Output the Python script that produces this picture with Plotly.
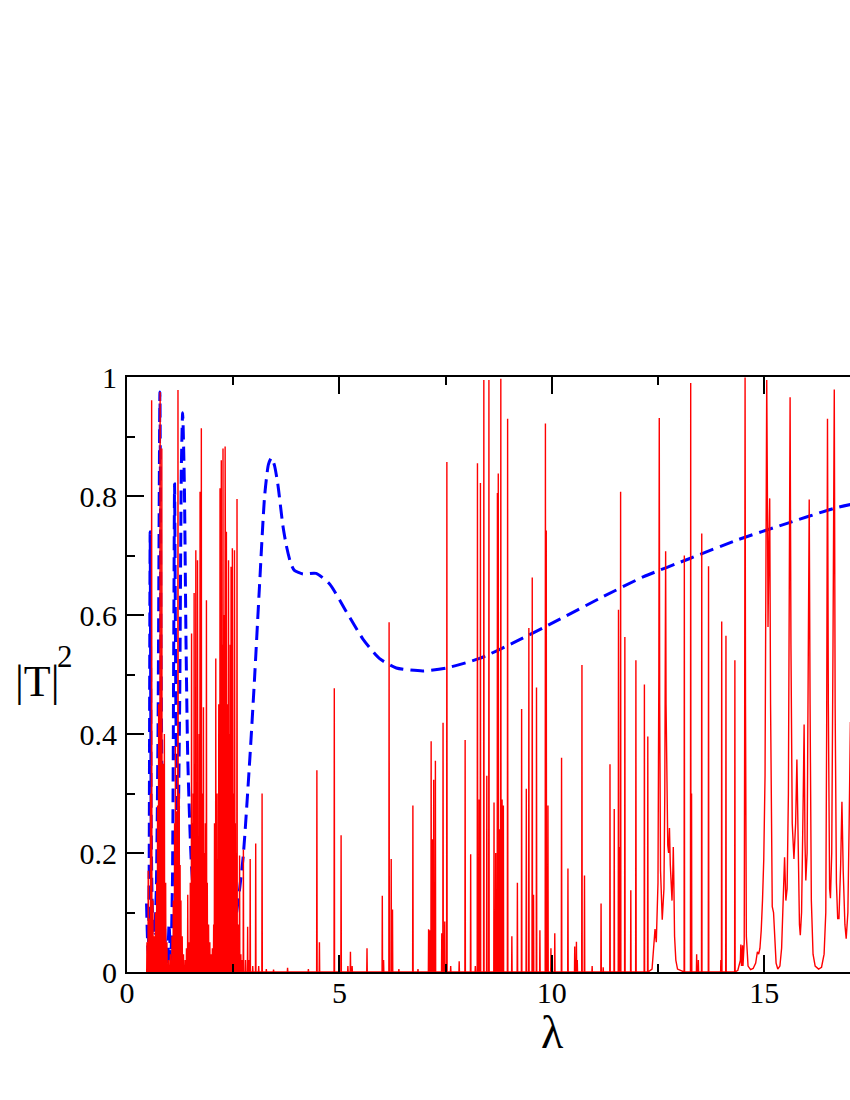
import plotly.graph_objects as go

# ---------------- data ----------------
# Blue dashed curve (|T|^2 vs lambda)
blue_lambda = [0.46, 0.48, 0.50, 0.52, 0.545, 0.57, 0.60, 0.65, 0.69, 0.73, 0.775, 0.80,
               0.84, 0.90, 0.95, 0.99, 1.03, 1.07, 1.10, 1.12, 1.15, 1.19, 1.24, 1.28,
               1.31, 1.35, 1.39, 1.43, 1.51, 1.63, 1.78, 1.94, 2.10, 2.30, 2.45, 2.57,
               2.73, 2.89, 3.00, 3.12, 3.24, 3.33, 3.40, 3.47, 3.55, 3.67, 3.75, 3.85,
               3.94, 4.14, 4.45, 4.77, 5.16, 5.55, 5.94, 6.34, 6.97, 7.52, 8.30, 9.09,
               10.19, 11.13, 12.15, 13.25, 14.36, 15.54, 16.63, 17.05]
blue_T2 = [0.115, 0.06, 0.03, 0.15, 0.74, 0.25, 0.10, 0.065, 0.14, 0.40, 0.975, 0.55,
           0.20, 0.05, 0.01, 0.08, 0.02, 0.15, 0.55, 0.82, 0.45, 0.17, 0.45, 0.85,
           0.94, 0.82, 0.55, 0.36, 0.19, 0.075, 0.03, 0.013, 0.01, 0.02, 0.05, 0.095,
           0.19, 0.357, 0.49, 0.65, 0.80, 0.853, 0.864, 0.852, 0.82, 0.75, 0.717, 0.688,
           0.675, 0.669, 0.67, 0.652, 0.606, 0.56, 0.527, 0.511, 0.506, 0.511, 0.527, 0.553,
           0.593, 0.628, 0.664, 0.695, 0.726, 0.754, 0.779, 0.786]

# Red curve: narrow resonance spikes (centre, height)
red_spike_lambda = [
    0.47, 0.50, 0.53, 0.555, 0.58, 0.61, 0.64, 0.67, 0.70, 0.72, 0.745, 0.78, 0.80, 0.82,
    0.85, 0.88, 0.91, 0.94, 0.98, 1.02, 1.06, 1.09, 1.12, 1.14, 1.16, 1.18, 1.20, 1.23,
    1.25, 1.27, 1.30, 1.33, 1.37, 1.40, 1.43, 1.46, 1.49, 1.52, 1.54, 1.56, 1.58, 1.60,
    1.62, 1.64, 1.66, 1.68, 1.70, 1.72, 1.75, 1.77, 1.80, 1.82, 1.845, 1.87, 1.89, 1.92,
    1.95, 1.98, 2.01, 2.04, 2.06, 2.09, 2.12, 2.14, 2.16, 2.19, 2.205, 2.22, 2.24, 2.26,
    2.28, 2.31, 2.325, 2.34, 2.36, 2.39, 2.41, 2.43, 2.45, 2.465, 2.48, 2.50, 2.53, 2.55,
    2.57, 2.59, 2.62, 2.65, 2.68, 2.71, 2.74, 2.79, 2.84, 2.87, 2.90, 2.96, 3.03, 3.10,
    3.18, 3.28, 3.45, 3.78, 4.27, 4.47, 4.53, 4.88, 5.04, 5.20, 5.26, 5.30, 5.65, 6.01,
    6.04, 6.17, 6.22, 6.25, 6.40, 6.73, 6.85, 7.10, 7.13, 7.16, 7.19, 7.22, 7.26, 7.41,
    7.44, 7.48, 7.53, 7.62, 7.82, 7.96, 8.09, 8.20, 8.25, 8.29, 8.32, 8.40, 8.47, 8.52,
    8.64, 8.68, 8.72, 8.74, 8.77, 8.80, 8.83, 8.86, 8.96, 9.06, 9.19, 9.29, 9.40, 9.46,
    9.54, 9.57, 9.64, 9.72, 9.85, 9.87, 9.91, 9.98, 10.07, 10.23, 10.38, 10.54, 10.58,
    10.60, 10.71, 10.77, 10.95, 11.16, 11.21, 11.37, 11.47, 11.57, 11.595, 11.62, 11.72,
    11.86, 11.98, 12.18, 12.26,
    13.12, 13.27, 13.29, 13.41, 13.45, 13.53, 13.69, 13.98, 14.00, 14.10, 14.31]
red_spike_T2 = [
    0.05, 0.17, 0.09, 0.30, 0.961, 0.12, 0.06, 0.10, 0.15, 0.28, 0.45, 0.975, 0.30, 0.88,
    0.35, 0.40, 0.15, 0.05, 0.02, 0.03, 0.06, 0.12, 0.25, 0.38, 0.27, 0.15, 0.978, 0.30,
    0.18, 0.12, 0.06, 0.03, 0.02, 0.04, 0.13, 0.05, 0.15, 0.569, 0.25, 0.30, 0.637, 0.35,
    0.709, 0.28, 0.692, 0.22, 0.40, 0.807, 0.914, 0.30, 0.445, 0.20, 0.25, 0.625, 0.15, 0.08,
    0.05, 0.03, 0.04, 0.08, 0.25, 0.527, 0.30, 0.19, 0.45, 0.813, 0.50, 0.86, 0.55, 0.88,
    0.60, 0.883, 0.50, 0.74, 0.45, 0.692, 0.40, 0.55, 0.681, 0.35, 0.712, 0.30, 0.709, 0.25,
    0.20, 0.795, 0.08, 0.196, 0.03, 0.02, 0.206, 0.02, 0.076, 0.02, 0.19, 0.01, 0.216, 0.01,
    0.30, 0.005, 0.004, 0.007, 0.005, 0.339, 0.05, 0.477, 0.23, 0.01, 0.034, 0.01, 0.04, 0.128,
    0.02, 0.588, 0.19, 0.105, 0.005, 0.28, 0.005, 0.072, 0.07, 0.388, 0.223, 0.323, 0.355, 0.065,
    0.419, 0.085, 0.857, 0.01, 0.018, 0.39, 0.198, 0.01, 0.855, 0.29, 0.822, 0.995, 0.33, 0.995,
    0.285, 0.20, 0.805, 0.838, 0.24, 0.997, 0.29, 0.28, 0.93, 0.06, 0.15, 0.442, 0.308, 0.578,
    0.663, 0.13, 0.478, 0.07, 0.922, 0.742, 0.28, 0.04, 0.065, 0.36, 0.174, 0.043, 0.051,
    0.02, 0.516, 0.162, 0.01, 0.115, 0.008, 0.349, 0.274, 0.609, 0.21, 0.807, 0.563,
    0.1375, 0.524, 0.483, 0.396,
    0.70, 0.99, 0.30, 0.03, 0.02, 0.737, 0.682, 0.02, 0.589, 0.565, 0.524]

# Red curve: broader resonances, sampled point by point
red_band1_lambda = [12.36, 12.40, 12.43, 12.46, 12.50, 12.52, 12.53, 12.54, 12.56, 12.60,
                    12.64, 12.66, 12.675, 12.68, 12.69, 12.71, 12.73, 12.75, 12.77, 12.79,
                    12.81, 12.83, 12.85, 12.86, 12.87, 12.89, 12.92, 12.96]
red_band1_T2 = [0.005, 0.04, 0.072, 0.05, 0.15, 0.5, 0.931, 0.45, 0.17, 0.088,
                0.14, 0.30, 0.60, 0.707, 0.45, 0.25, 0.213, 0.20, 0.242, 0.18,
                0.13, 0.12, 0.17, 0.21, 0.17, 0.06, 0.02, 0.005]

red_band2_lambda = [14.38, 14.44, 14.45, 14.465, 14.48, 14.49, 14.50, 14.53, 14.54, 14.55,
                    14.56, 14.58, 14.62, 14.68, 14.74, 14.80, 14.84, 14.87, 14.90, 14.93,
                    14.96, 14.99, 15.02, 15.04, 15.06, 15.08, 15.09, 15.11, 15.13, 15.15,
                    15.17, 15.19, 15.22, 15.25, 15.28, 15.32, 15.37, 15.41, 15.44, 15.48,
                    15.51, 15.54, 15.57, 15.60, 15.61, 15.63, 15.66, 15.70, 15.74, 15.77,
                    15.80, 15.83, 15.85, 15.88, 15.92, 15.94, 15.96, 15.98, 16.01, 16.04,
                    16.06, 16.08, 16.11, 16.15, 16.20, 16.28, 16.35, 16.41, 16.45, 16.47,
                    16.49, 16.51, 16.54, 16.56, 16.59, 16.62, 16.65, 16.67, 16.70, 16.73,
                    16.76, 16.80, 16.83, 16.86, 16.90, 16.93, 16.97, 17.00, 17.03]
red_band2_T2 = [0.003, 0.02, 0.046, 0.01, 0.02, 0.045, 0.01, 0.05, 0.4, 0.999,
                0.45, 0.06, 0.01, 0.004, 0.006, 0.015, 0.034, 0.03, 0.04, 0.07,
                0.12, 0.19, 0.33, 0.65, 0.995, 0.75, 0.58, 0.70, 0.796, 0.45,
                0.18, 0.11, 0.10, 0.05, 0.015, 0.005, 0.01, 0.04, 0.10, 0.193,
                0.12, 0.14, 0.30, 0.80, 0.966, 0.55, 0.25, 0.19, 0.25, 0.357,
                0.18, 0.08, 0.062, 0.10, 0.30, 0.416, 0.22, 0.154, 0.20, 0.55,
                0.794, 0.45, 0.12, 0.03, 0.01, 0.005, 0.008, 0.03, 0.10, 0.40,
                0.93, 0.45, 0.14, 0.124, 0.20, 0.55, 0.979, 0.45, 0.15, 0.09,
                0.09, 0.18, 0.286, 0.17, 0.08, 0.056, 0.10, 0.25, 0.42]

x_tick_vals = [0, 5, 10, 15]
y_tick_vals = [0, 0.2, 0.4, 0.6, 0.8, 1]

# ---------------- build the red polyline ----------------
SPIKE_HALF = 0.006  # visual half-width of a narrow spike (style)
segments = []
for c, h in zip(red_spike_lambda, red_spike_T2):
    segments.append(([c - SPIKE_HALF, c, c + SPIKE_HALF], [0.0, h, 0.0]))
segments.append((red_band1_lambda, red_band1_T2))
segments.append((red_band2_lambda, red_band2_T2))
segments.sort(key=lambda s: s[0][0])
red_x, red_y = [], []
for sx, sy in segments:
    red_x.extend(sx)
    red_y.extend(sy)

FONT = "Liberation Serif"

fig = go.Figure()
fig.add_trace(go.Scatter(x=blue_lambda, y=blue_T2, mode="lines",
                         line=dict(color="#0000ff", width=3, dash="14px,7px",
                                   shape="spline", smoothing=0.6),
                         hoverinfo="skip", showlegend=False))
fig.add_trace(go.Scatter(x=red_x, y=red_y, mode="lines",
                         line=dict(color="#ff0000", width=1.4),
                         hoverinfo="skip", showlegend=False))

axis_common = dict(showline=True, linecolor="black", linewidth=2,
                   ticks="inside", tickcolor="black", tickwidth=2, ticklen=17,
                   showgrid=False, zeroline=False,
                   tickfont=dict(family=FONT, size=30, color="black"))

fig.update_xaxes(range=[0, 17.02], tickvals=x_tick_vals, mirror="allticks",
                 ticklabelstandoff=-7,
                 minor=dict(dtick=2.5, tick0=0, ticks="inside", ticklen=8, tickwidth=2,
                            tickcolor="black", showgrid=False),
                 **axis_common)
fig.update_yaxes(range=[0, 1], tickvals=y_tick_vals, mirror=False,
                 ticklabelstandoff=2,
                 minor=dict(dtick=0.1, tick0=0, ticks="inside", ticklen=8, tickwidth=2,
                            tickcolor="black", showgrid=False),
                 **axis_common)

fig.add_annotation(text="|T|", xref="paper", yref="paper", x=-0.158, y=0.489,
                   xanchor="left", yanchor="middle", showarrow=False,
                   font=dict(family=FONT, size=44, color="black"))
fig.add_annotation(text="2", xref="paper", yref="paper", x=-0.1, y=0.53,
                   xanchor="left", yanchor="middle", showarrow=False,
                   font=dict(family=FONT, size=31, color="black"))
fig.add_annotation(text="λ", xref="paper", yref="paper", x=0.588, y=-0.1,
                   xanchor="center", yanchor="middle", showarrow=False,
                   height=42, valign="middle",
                   font=dict(family=FONT, size=46, color="black"))

fig.update_layout(width=850, height=1100,
                  margin=dict(l=127, r=0, t=377, b=128),
                  paper_bgcolor="white", plot_bgcolor="white")

# remove the page's default body margin so the 850x1100 figure fills the window
fig.write_html("out.html",
               config={"displayModeBar": False},
               post_script="document.body.style.margin='0px';"
                           "document.documentElement.style.overflow='hidden';"
                           "document.body.style.overflow='hidden';")
